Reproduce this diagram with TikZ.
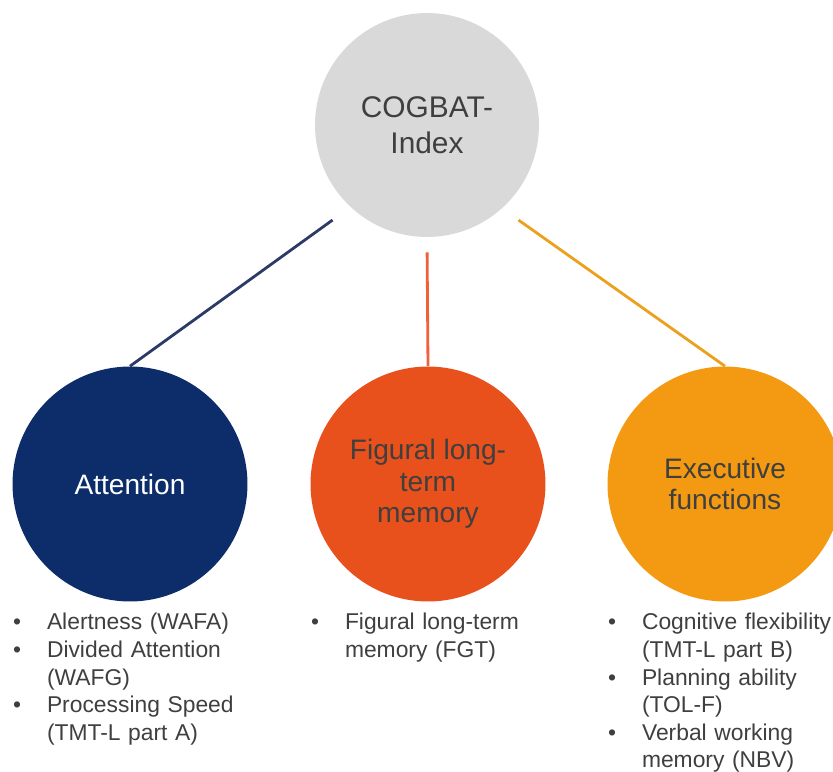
\documentclass[tikz,border=0pt]{standalone}
\usepackage{fontspec}
\setmainfont{Liberation Sans}
\usepackage{xcolor}
\usepackage{tikz}
\usetikzlibrary{positioning}
\definecolor{idxgray}{HTML}{D9D9D9}
\definecolor{txtgray}{HTML}{3F3F3F}
\definecolor{attblue}{HTML}{0D2D6A}
\definecolor{figred}{HTML}{E8501C}
\definecolor{exeorange}{HTML}{F39A12}
\definecolor{attline}{HTML}{2B3A67}
\definecolor{figline}{HTML}{F0603A}
\definecolor{exeline}{HTML}{EBA01E}

\begin{document}
\begin{tikzpicture}[x=0.02cm,y=-0.02cm]
      \edef\sizetop{4.48cm}
      \edef\sizearea{4.7cm}
      \tikzstyle{topic}=[circle,fill=idxgray,text=txtgray,minimum size=\sizetop,align=center,font=\fontsize{17}{20.5}\selectfont]
      \tikzstyle{area}=[circle,minimum size=\sizearea,align=center,font=\fontsize{16}{18}\selectfont]
      \tikzstyle{tests}=[text width=4.68cm,inner sep=0pt,text=txtgray,font=\fontsize{13}{15.7}\selectfont,node distance=0.17cm]
      \tikzstyle{link}=[line width=1.6pt]
      
      \useasboundingbox (0,0) rectangle (833,772);
      
      \node [topic] (index) at (427,125) {COGBAT-\\Index};
      
      \node [area,fill=attblue,text=white] (att) at (130,484) {Attention};
      \node [area,fill=figred,text=txtgray] (fig) at (428,484) {Figural long-\\term\\memory};
      \node [area,fill=exeorange,text=txtgray] (exe) at (725,484) {Executive\\functions};
      
      \draw [link,draw=attline,shorten <=0.44cm] (index.227) -- (att.north);
      \draw [link,draw=figline,shorten <=0.3cm] (index.south) -- (fig.north);
      \draw [link,draw=exeline,shorten <=0.4cm] (index.312) -- (exe.north);
      
      \node [tests,below=of att] (attlist) {\begin{tabular}{@{}p{0.68cm}@{}l@{}}
        \textbullet & Alertness (WAFA)\\
        \textbullet & Divided Attention\\
        & (WAFG)\\
        \textbullet & Processing Speed\\
        & (TMT-L part A)
      \end{tabular}};
      \node [tests,below=of fig] (figlist) {\begin{tabular}{@{}p{0.68cm}@{}l@{}}
        \textbullet & Figural long-term\\
        & memory (FGT)
      \end{tabular}};
      \node [tests,below=of exe] (exelist) {\begin{tabular}{@{}p{0.68cm}@{}l@{}}
        \textbullet & Cognitive flexibility\\
        & (TMT-L part B)\\
        \textbullet & Planning ability\\
        & (TOL-F)\\
        \textbullet & Verbal working\\
        & memory (NBV)
      \end{tabular}};
\end{tikzpicture}
\end{document}
